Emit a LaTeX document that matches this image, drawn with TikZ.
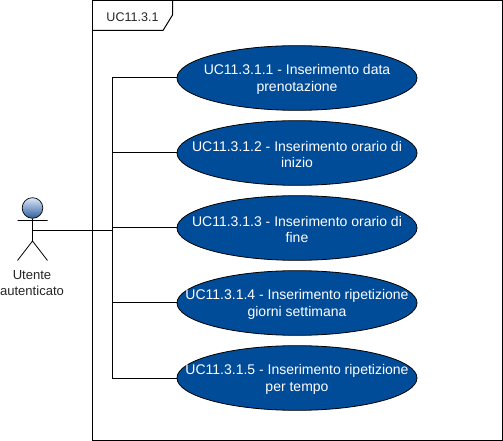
\documentclass[tikz,border=0pt]{standalone}
\usepackage{fontspec}
\setmainfont{Liberation Sans}
\usetikzlibrary{shapes.geometric}
\definecolor{ucblue}{HTML}{004C99}
\definecolor{headtop}{HTML}{DAE8FC}
\definecolor{headbot}{HTML}{2F5E9A}
\tikzset{
  x=0.75pt,y=-0.75pt,
  usecase/.style={ellipse,draw=black,fill=ucblue,minimum width=180pt,minimum height=48.5pt,inner sep=0pt,line width=0.6pt,
    label={[text=white,inner sep=0pt,align=center,yshift=-1.2pt,font=\fontsize{10.5}{12.4}\selectfont]center:#1}},
  wire/.style={draw=black,line width=0.75pt},
  lbl/.style={align=center,text=black!85,inner sep=0pt}
}
\begin{document}
\begin{tikzpicture}
\useasboundingbox (0,0) rectangle (503,441);
% frame
\draw[wire] (92.5,0.5) rectangle (502.5,440.5);
\draw[wire] (92.5,30.5) -- (163,30.5) -- (172.5,15) -- (172.5,0.5);
\node[lbl,font=\fontsize{9.4}{11.2}\selectfont] (frame) at (132.5,17) {UC11.3.1};
% actor
\coordinate (hip) at (32.5,241);
\coordinate (armL) at (17.5,220.5);
\coordinate (armR) at (47.5,220.5);
\coordinate (legL) at (17.5,260.5);
\coordinate (legR) at (47.5,260.5);
\coordinate (waist) at (32.5,230.5);
\node[circle,minimum size=15.5pt,inner sep=0pt,draw=black,line width=0.5pt,top color=headtop,bottom color=headbot] (head) at (32.5,208) {};
\draw[wire,line width=0.6pt] (head.south) -- (hip) (armL) -- (armR) (hip) -- (legL) (hip) -- (legR);
\node[lbl,font=\fontsize{9.8}{11.6}\selectfont] (actor) at (32,283) {Utente\\autenticato};
% use cases
\node[usecase={UC11.3.1.1 - Inserimento data\\prenotazione}] (u1) at (297,78) {};
\node[usecase={UC11.3.1.2 - Inserimento orario di\\inizio}] (u2) at (297,153) {};
\node[usecase={UC11.3.1.3 - Inserimento orario di\\fine}] (u3) at (297,228) {};
\node[usecase={UC11.3.1.4 - Inserimento ripetizione\\giorni settimana}] (u4) at (297,303) {};
\node[usecase={UC11.3.1.5 - Inserimento ripetizione\\per tempo}] (u5) at (297,378) {};
% connectors
\coordinate (bus) at (112.5,230.5);
\draw[wire] (waist) -- (bus);
\draw[wire] (bus) |- (u1.west);
\draw[wire] (bus) |- (u2.west);
\draw[wire] (bus) |- (u3.west);
\draw[wire] (bus) |- (u4.west);
\draw[wire] (bus) |- (u5.west);
\end{tikzpicture}
\end{document}
